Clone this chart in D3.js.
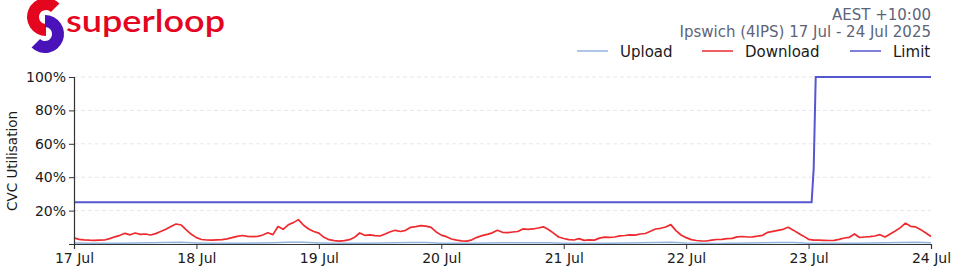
<!DOCTYPE html>
<html>
<head>
<meta charset="utf-8">
<script src="https://cdn.jsdelivr.net/npm/d3@7"></script>
<style>
  body { margin: 0; background: #fff; }
  text { font-family: "DejaVu Sans", sans-serif; }
</style>
</head>
<body>
<div id="chart"></div>
<script>
// Chart data (hours since 17 Jul 00:00, values in %)
var startDate = new Date(2025, 6, 17);
var endDate = new Date(2025, 6, 24);

// download, hourly, 0..168
var downloadValues = [
  3.7, 2.8, 2.5, 2.3, 2.2, 2.3, 2.4, 3.2, 4.3, 5.2, 6.4, 5.5, 6.6, 5.8, 6.0, 5.4, 6.2, 7.5, 8.8, 10.5, 12.0, 11.4, 8.5, 5.8,
  3.8, 2.7, 2.4, 2.3, 2.5, 2.6, 3.1, 3.8, 4.6, 5.1, 4.6, 4.4, 4.6, 5.4, 6.7, 5.6, 10.5, 8.8, 11.5, 12.8, 14.6, 11.2, 9.0, 7.5,
  6.5, 4.0, 2.6, 2.0, 1.7, 2.0, 2.6, 4.0, 6.6, 5.2, 5.5, 5.0, 4.8, 6.0, 7.3, 8.2, 7.5, 8.2, 10.0, 10.4, 11.0, 10.7, 10.0, 7.2,
  5.3, 4.4, 3.0, 2.3, 1.9, 1.7, 2.5, 4.0, 5.0, 5.8, 6.7, 8.2, 7.0, 6.8, 7.2, 7.5, 9.0, 8.8, 9.0, 9.6, 10.3, 8.7, 6.5, 4.2,
  3.3, 2.6, 2.4, 3.2, 2.2, 2.5, 2.3, 3.5, 4.1, 4.0, 4.2, 4.9, 5.1, 5.5, 5.3, 6.0, 6.3, 7.6, 9.0, 9.4, 10.2, 11.6, 8.0, 5.4,
  3.8, 2.6, 2.1, 1.8, 1.8, 2.3, 2.7, 2.8, 3.2, 3.4, 4.3, 4.5, 4.2, 4.3, 4.7, 5.2, 7.0, 7.6, 8.2, 8.8, 10.0, 8.3, 6.5, 4.7,
  2.8, 2.3, 2.3, 2.2, 2.1, 2.2, 2.8, 3.6, 4.0, 6.0, 3.9, 4.2, 4.4, 4.8, 5.6, 4.2, 6.0, 7.8, 9.8, 12.5, 10.6, 10.2, 8.6, 6.6,
  4.5
];

// upload, every 3 hours, 0..168
var uploadValues = [
  0.6, 0.4, 0.4, 0.5, 0.6, 0.7, 0.9, 1.0,
  0.6, 0.4, 0.4, 0.5, 0.6, 0.8, 1.1, 1.0,
  0.6, 0.4, 0.4, 0.5, 0.6, 0.8, 0.9, 0.9,
  0.5, 0.4, 0.4, 0.6, 0.7, 0.7, 0.8, 0.8,
  0.5, 0.4, 0.4, 0.5, 0.6, 0.7, 0.9, 1.1,
  0.6, 0.4, 0.3, 0.5, 0.6, 0.7, 0.9, 0.9,
  0.5, 0.4, 0.4, 0.5, 0.6, 0.7, 0.9, 1.0,
  0.7
];

// limit step
var limitHours = [0, 144.6, 145.0, 145.4, 168];
var limitValues = [25, 25, 45, 100, 100];

var yTicks = [20, 40, 60, 80, 100];
var legendLabels = ["Upload", "Download", "Limit"];
var legendColors = ["#92b4dc", "#ee2a2f", "#5656cf"];
var headerLines = ["AEST +10:00", "Ipswich (4IPS) 17 Jul - 24 Jul 2025"];

var svgWidth = 960;
var svgHeight = 275;
var margin = { top: 77, right: 29, bottom: 31, left: 74 };
var width = svgWidth - margin.left - margin.right;
var height = svgHeight - margin.top - margin.bottom;

var svg = d3.select("#chart")
  .append("svg")
  .attr("width", svgWidth)
  .attr("height", svgHeight);

function hourDate(h) {
  return d3.timeMinute.offset(startDate, Math.round(h * 60));
}

var downloadData = downloadValues.map((v, i) => ({ t: hourDate(i), v: v }));
var uploadData = uploadValues.map((v, i) => ({ t: hourDate(i * 3), v: v }));
var limitData = limitValues.map((v, i) => ({ t: hourDate(limitHours[i]), v: v }));

var x = d3.scaleTime().domain([startDate, endDate]).range([0, width]);
var y = d3.scaleLinear().domain([0, 100]).range([height, 0]);

var chartGroup = svg.append("g")
  .attr("transform", `translate(${margin.left}, ${margin.top})`);

// dashed grid
chartGroup.append("g").selectAll("line")
  .data(yTicks)
  .enter()
  .append("line")
  .attr("x1", 0)
  .attr("x2", width)
  .attr("y1", d => y(d))
  .attr("y2", d => y(d))
  .attr("stroke", "#e3e7ef")
  .attr("stroke-width", 1)
  .attr("stroke-dasharray", "4,3");

var line = d3.line()
  .x(d => x(d.t))
  .y(d => y(d.v));

chartGroup.append("path")
  .datum(uploadData)
  .attr("d", line)
  .attr("fill", "none")
  .attr("stroke", legendColors[0])
  .attr("stroke-width", 1.5);

chartGroup.append("path")
  .datum(limitData)
  .attr("d", line)
  .attr("fill", "none")
  .attr("stroke", legendColors[2])
  .attr("stroke-width", 2);

chartGroup.append("path")
  .datum(downloadData)
  .attr("d", line)
  .attr("fill", "none")
  .attr("stroke", legendColors[1])
  .attr("stroke-width", 1.7)
  .attr("stroke-linejoin", "round");

// axes
var bottomAxis = d3.axisBottom(x)
  .ticks(d3.timeDay.every(1))
  .tickFormat(d3.timeFormat("%d %b"))
  .tickSizeOuter(0)
  .tickSize(5)
  .tickPadding(4);

var leftAxis = d3.axisLeft(y)
  .tickValues(yTicks)
  .tickFormat(d => d + "%")
  .tickSizeOuter(0)
  .tickSize(5)
  .tickPadding(3);

var xAxisG = chartGroup.append("g")
  .attr("transform", `translate(0, ${height})`)
  .call(bottomAxis);

var yAxisG = chartGroup.append("g")
  .call(leftAxis);

[xAxisG, yAxisG].forEach(function(g) {
  g.selectAll(".domain").attr("stroke", "#333").attr("stroke-width", 1.2);
  g.selectAll(".tick line").attr("stroke", "#333");
  g.selectAll("text")
    .attr("fill", "#1a1a1a")
    .style("font-family", "DejaVu Sans")
    .style("font-size", "14px");
});

// y label
svg.append("text")
  .attr("transform", "translate(17, 161) rotate(-90)")
  .attr("text-anchor", "middle")
  .attr("fill", "#1a1a1a")
  .style("font-size", "13.5px")
  .text("CVC Utilisation");

// header text
svg.append("g").selectAll("text")
  .data(headerLines)
  .enter()
  .append("text")
  .attr("x", 931)
  .attr("y", (d, i) => 19.5 + i * 17.5)
  .attr("text-anchor", "end")
  .attr("fill", "#5c6479")
  .style("font-size", "15px")
  .text(d => d);

// legend
var legendX = [577, 702, 850];
var legend = svg.append("g").selectAll("g")
  .data(legendLabels)
  .enter()
  .append("g")
  .attr("transform", (d, i) => `translate(${legendX[i]}, 51)`);

legend.append("line")
  .attr("x1", 0)
  .attr("x2", 31)
  .attr("stroke", (d, i) => legendColors[i])
  .attr("stroke-width", 1.5);

legend.append("text")
  .attr("x", 43)
  .attr("y", 5.5)
  .attr("fill", "#1a1a1a")
  .style("font-size", "15px")
  .text(d => d);

// logo
var logo = svg.append("g");
var arc = d3.arc().innerRadius(7).outerRadius(19);
logo.append("path")
  .attr("transform", "translate(46, 17)")
  .attr("d", arc({ startAngle: -Math.PI, endAngle: Math.PI / 4 }))
  .attr("fill", "#e4051f");
logo.append("path")
  .attr("transform", "translate(45, 34)")
  .attr("d", arc({ startAngle: 0, endAngle: Math.PI * 1.25 }))
  .attr("fill", "#4a12b9");

logo.append("text")
  .attr("x", 66)
  .attr("y", 32)
  .attr("textLength", 159)
  .attr("lengthAdjust", "spacingAndGlyphs")
  .attr("fill", "#e4051f")
  .style("font-family", "Lato")
  .style("font-size", "30px")
  .style("font-weight", "600")
  .text("superloop");
</script>
</body>
</html>
